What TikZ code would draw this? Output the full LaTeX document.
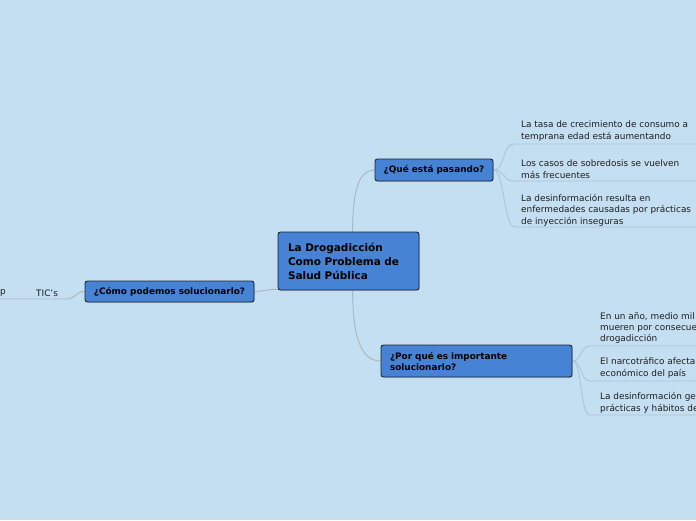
\documentclass[tikz,border=0pt]{standalone}
\usepackage{fontspec}
\setmainfont{DejaVu Sans}
\usetikzlibrary{shadows,calc}
\definecolor{bg}{HTML}{C4DFF2}
\definecolor{nodefill}{HTML}{4683D5}
\definecolor{nodeborder}{HTML}{1C2430}
\definecolor{conn}{HTML}{A9B6C0}
\definecolor{uline}{HTML}{ADC4D6}
\definecolor{txt}{HTML}{1E1E1E}
\pgfdeclarelayer{bgl}
\pgfdeclarelayer{lines}
\pgfsetlayers{bgl,lines,main}
\tikzset{
  topic/.style={draw=nodeborder, line width=0.9pt, fill=nodefill, rounded corners=2.5pt,
    font=\bfseries\fontsize{8.9}{11}\selectfont, text=black, inner sep=0pt,
    drop shadow={shadow xshift=0.8pt, shadow yshift=-0.8pt, opacity=0.35}},
  leaf/.style={anchor=west, align=left, inner sep=0pt, text=txt,
    font=\fontsize{8.9}{11.4}\selectfont},
  conn/.style={draw=conn, line width=0.9pt},
  uline/.style={draw=uline, line width=0.9pt},
}
\begin{document}
\begin{tikzpicture}[x=1pt,y=-1pt]
\useasboundingbox (0,0) rectangle (696,520);
\clip (0,0) rectangle (696,520);
\begin{pgfonlayer}{bgl}
\fill[bg] (0,0) rectangle (696,520);
\end{pgfonlayer}

\coordinate (u1) at (513,144);
\coordinate (u2) at (513,181);
\coordinate (u3) at (515,227);
\coordinate (u4) at (590,346);
\coordinate (u5) at (590,381);
\coordinate (u6) at (590,415);
\coordinate (e1) at (700,144);
\coordinate (e2) at (700,181);
\coordinate (e3) at (700,227);
\coordinate (e4) at (700,346);
\coordinate (e5) at (700,381);
\coordinate (e6) at (700,415);
\coordinate (t1) at (66,299);
\coordinate (t0) at (-5,299);

% topic nodes
\node[topic, minimum width=141pt, minimum height=58pt, text width=121pt, align=left,
  font=\bfseries\fontsize{10.5}{14}\selectfont] (main) at (348.5,261)
  {La Drogadicción\\Como Problema de\\Salud Pública};
\node[topic, minimum width=118pt, minimum height=22pt] (que) at (434,170) {¿Qué está pasando?};
\node[topic, minimum width=191pt, minimum height=32pt, text width=173pt, align=left] (por) at (476.5,361)
  {¿Por qué es importante\\solucionarlo?};
\node[topic, minimum width=169pt, minimum height=21pt] (como) at (169.5,291.5) {¿Cómo podemos solucionarlo?};

% connectors
\begin{pgfonlayer}{lines}
\draw[conn] ($(main.north)+(4,0)$) .. controls (353,190) and (358,171) .. (que.west);
\draw[conn] ($(main.south)+(4,0)$) .. controls (353,335) and (360,361) .. (por.west);
\draw[conn] ($(main.south west)+(0,-1)$) .. controls (268,289) and (264,291) .. (como.east);
\draw[conn] (como.west) .. controls (76,291) and (76,299) .. (t1) -- (t0);
\draw[uline] (que.east) .. controls (505,170) and (503,144) .. (u1) -- (e1);
\draw[uline] (que.east) .. controls (505,170) and (503,181) .. (u2) -- (e2);
\draw[uline] (que.east) .. controls (505,170) and (503,227) .. (u3) -- (e3);
\draw[uline] (por.east) .. controls (582,361) and (580,346) .. (u4) -- (e4);
\draw[uline] (por.east) .. controls (582,361) and (580,381) .. (u5) -- (e5);
\draw[uline] (por.east) .. controls (582,361) and (580,415) .. (u6) -- (e6);
\end{pgfonlayer}

% leaf texts
\node[leaf] (l1) at (521,131) {La tasa de crecimiento de consumo a\\temprana edad está aumentando};
\node[leaf] (l2) at (521,169) {Los casos de sobredosis se vuelven\\más frecuentes};
\node[leaf] (l3) at (521,210) {La desinformación resulta en\\enfermedades causadas por prácticas\\de inyección inseguras};
\node[leaf] (l4) at (600,328) {En un año, medio mil\\mueren por consecue\\drogadicción};
\node[leaf] (l5) at (600,368) {El narcotráfico afecta\\económico del país};
\node[leaf] (l6) at (600,403) {La desinformación ge\\prácticas y hábitos de};
\node[leaf] (tic) at (36,293) {TIC's};
\node[leaf] (pp) at (0,293) {p};
\end{tikzpicture}
\end{document}
